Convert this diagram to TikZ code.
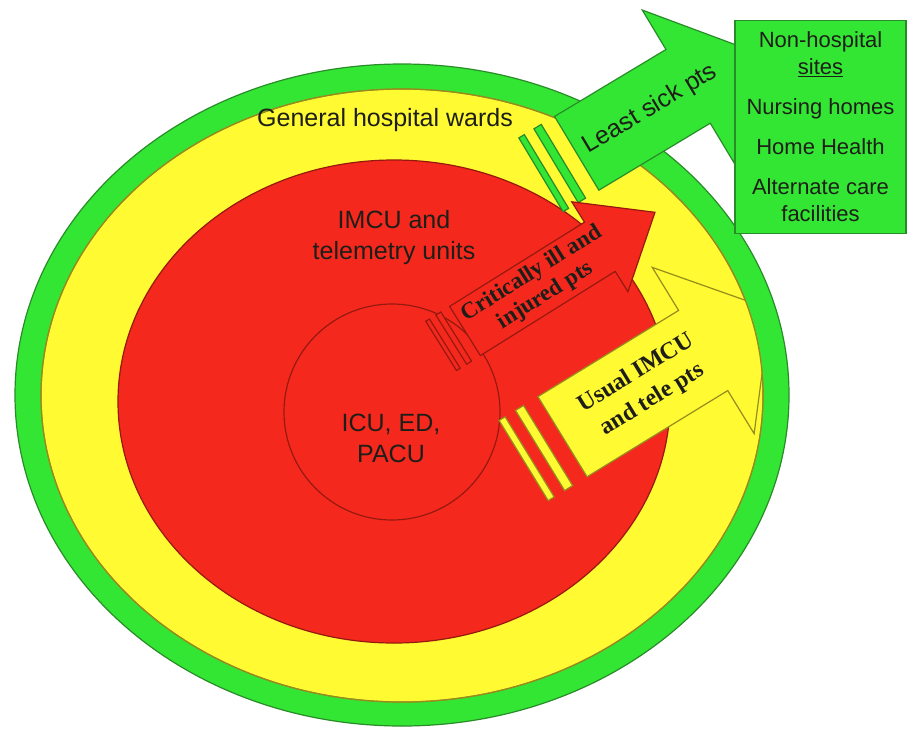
\documentclass[tikz,border=0pt]{standalone}
\usepackage{fontspec}
\setmainfont{Liberation Sans}
\newfontfamily\serifbold{Liberation Serif}
\usetikzlibrary{positioning}

\definecolor{ringgreen}{RGB}{52,230,52}
\definecolor{greenline}{RGB}{40,140,40}
\definecolor{ringyellow}{RGB}{255,250,50}
\definecolor{yellowline}{RGB}{150,140,30}
\definecolor{ringred}{RGB}{245,40,30}
\definecolor{redline}{RGB}{150,25,15}
\definecolor{ink}{RGB}{30,30,25}

% striped arrow: style, tail, angle, half shaft, shaft length,
% half head, head length, label coordinate, label position
\newcommand{\stripedarrow}[9]{%
  \begin{scope}[shift={#2}, rotate=#3]
    \draw[#1] (0,-#4) -- (#5,-#4) -- (#5,-#6) -- ({#5+#7},0)
      -- (#5,#6) -- (#5,#4) -- (0,#4) -- cycle;
    \draw[#1] ({-0.97*#4},-#4) rectangle ({-0.82*#4},#4);
    \draw[#1] ({-0.56*#4},-#4) rectangle ({-0.36*#4},#4);
    \coordinate (#8) at (#9,0);
  \end{scope}}

\begin{document}
\begin{tikzpicture}[x=1pt, y=-1pt,
    ring/.style = {line width=1.2pt},
    leastarrow/.style = {ring, draw=greenline, fill=ringgreen},
    usualarrow/.style = {ring, draw=yellowline, fill=ringyellow},
    criticalarrow/.style = {ring, draw=redline, fill=ringred},
    label/.style = {align=center, text=ink,
      font=\fontsize{25}{31}\selectfont},
    arrowtext/.style = {align=center, text=ink, inner sep=0pt,
      font=\serifbold\bfseries\fontsize{23}{26}\selectfont},
    sitebox/.style = {draw=greenline, fill=ringgreen, line width=1.2pt,
      minimum width=171pt, minimum height=213pt, align=center,
      text=ink, font=\fontsize{22}{27}\selectfont}]
  \fill[white] (0,0) rectangle (909,745);

  % the three wards
  \draw[ring, draw=greenline, fill=ringgreen] (402,395) ellipse [x radius=387, y radius=331];
  \draw[ring, draw=yellowline, fill=ringyellow] (402,395.5) ellipse [x radius=361, y radius=306.5];
  \draw[ring, draw=redline, fill=ringred] (394,401.5) ellipse [x radius=276, y radius=241.5];
  \draw[ring, draw=redline] (392,412) circle [radius=108];

  % patient flows
  \begin{scope}
    \clip (402,395.5) ellipse [x radius=361, y radius=306.5];
    \stripedarrow{usualarrow}{(562.5,436.7)}{31.5}{47}{165}{97.5}{79}{usual}{96}
  \end{scope}
  \draw[ring, draw=yellowline] (402,395.5) ellipse [x radius=361, y radius=306.5];
  \stripedarrow{leastarrow}{(576.7,153.3)}{31}{43}{130}{89}{71}{least}{86}
  \stripedarrow{criticalarrow}{(465,331)}{32}{29}{159}{53}{65}{critical}{87}

  \node[label] (wards) at (385,120) {General hospital wards};
  \node[label] (imcu) at (394,238) {IMCU and\\telemetry units};
  \node[label] (icu) at (391,438) {ICU, ED,\\PACU};

  \node[label, rotate=31] (leastlabel) at (least) {Least sick pts};
  \node[arrowtext, rotate=32] (criticallabel) at (critical) {Critically ill and\\injured pts};
  \node[arrowtext, rotate=31.5, font=\serifbold\bfseries\fontsize{24}{31}\selectfont]
    (usuallabel) at (usual) {Usual IMCU\\and tele pts};

  \node[sitebox] (sites) at (820.5,127) {Non-hospital\\\underline{sites}\\[13pt]
    Nursing homes\\[13pt]Home Health\\[13pt]Alternate care\\facilities};
\end{tikzpicture}
\end{document}
